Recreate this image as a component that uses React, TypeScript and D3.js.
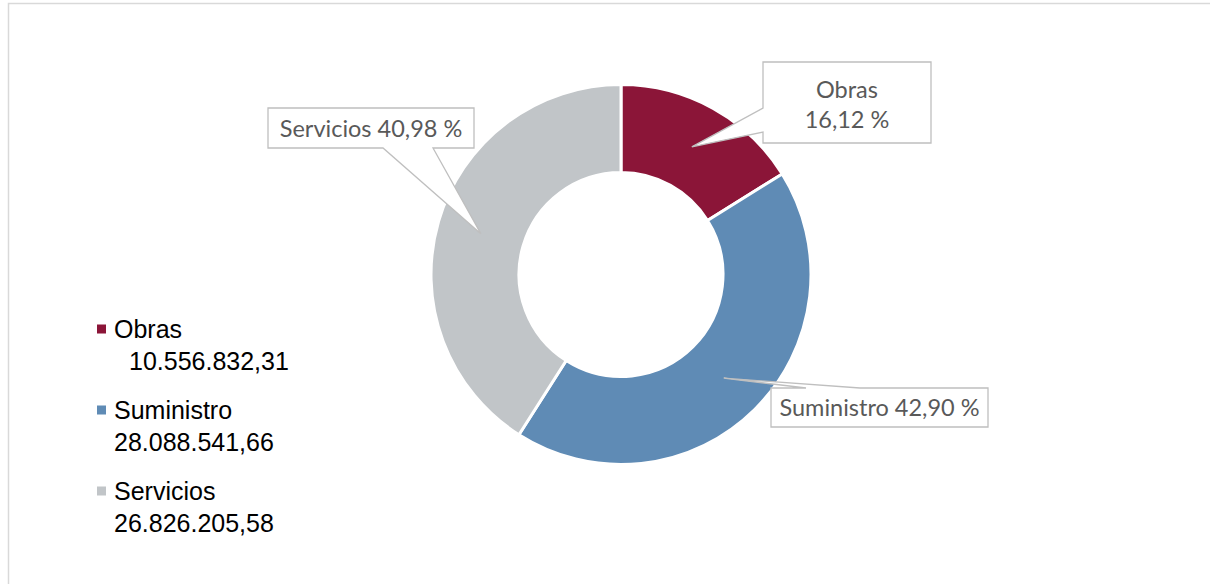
import React from "react";
import * as d3 from "d3";

const categories = ["Obras", "Suministro", "Servicios"];
const amounts = [10556832.31, 28088541.66, 26826205.58];
const amountLabels = ["10.556.832,31", "28.088.541,66", "26.826.205,58"];
const pctLabels = ["16,12 %", "42,90 %", "40,98 %"];
const colors = ["#8B1538", "#5F8BB5", "#C1C5C8"];

const W = 1210;
const H = 584;
const cx = 621;
const cy = 274.5;
const outerR = 190;
const innerR = 102;

type Box = { x: number; y: number; w: number; h: number; edge: "top" | "bottom" | "left"; base: [number, number]; lines: string[]; baselines: number[] };

// callout boxes (layout only)
const boxes: Box[] = [
  { x: 763, y: 62, w: 168, h: 81, edge: "left", base: [108, 132], lines: [categories[0], pctLabels[0]], baselines: [98, 128] },
  { x: 771, y: 388, w: 217, h: 39, edge: "top", base: [806, 860], lines: [`${categories[1]} ${pctLabels[1]}`], baselines: [416] },
  { x: 268, y: 108, w: 206, h: 40, edge: "bottom", base: [383, 433], lines: [`${categories[2]} ${pctLabels[2]}`], baselines: [137] },
];

function calloutPath(b: Box, tip: [number, number]) {
  const { x, y, w, h, edge, base } = b;
  const p = d3.path();
  p.moveTo(x, y);
  if (edge === "top") {
    p.lineTo(base[0], y);
    p.lineTo(tip[0], tip[1]);
    p.lineTo(base[1], y);
  }
  p.lineTo(x + w, y);
  p.lineTo(x + w, y + h);
  if (edge === "bottom") {
    p.lineTo(base[1], y + h);
    p.lineTo(tip[0], tip[1]);
    p.lineTo(base[0], y + h);
  }
  p.lineTo(x, y + h);
  if (edge === "left") {
    p.lineTo(x, base[1]);
    p.lineTo(tip[0], tip[1]);
    p.lineTo(x, base[0]);
  }
  p.closePath();
  return p.toString();
}

export default function App() {
  const pie = d3.pie<number>().sort(null).value((d) => d);
  const arcs = pie(amounts);
  const arc = d3.arc<d3.PieArcDatum<number>>().innerRadius(innerR).outerRadius(outerR);

  const legendRows = [
    { nameY: 338, valueY: 370, valueX: 129 },
    { nameY: 419, valueY: 451, valueX: 114 },
    { nameY: 500, valueY: 532, valueX: 114 },
  ];

  return (
    <div style={{ position: "absolute", left: 0, top: 0 }}>
      <svg width={W} height={H} style={{ display: "block", background: "#fff" }}>
        <rect x={8.5} y={3.5} width={W + 10} height={H + 10} fill="#fff" stroke="#d9d9d9" strokeWidth={1.5} />

        <g transform={`translate(${cx},${cy})`}>
          {arcs.map((a, i) => (
            <path key={categories[i]} d={arc(a) || ""} fill={colors[i]} stroke="#fff" strokeWidth={3} />
          ))}
        </g>

        {boxes.map((b, i) => {
          const c = arc.centroid(arcs[i]);
          const tip: [number, number] = [cx + c[0], cy + c[1]];
          return (
            <g key={"callout" + i}>
              <path d={calloutPath(b, tip)} fill="#fff" stroke="#bfbfbf" strokeWidth={1.3} />
              {b.lines.map((t, j) => (
                <text
                  key={j}
                  x={b.x + b.w / 2}
                  y={b.baselines[j]}
                  textAnchor="middle"
                  fill="#595959"
                  style={{ fontFamily: "Lato, 'Open Sans', sans-serif", fontSize: "23.5px" }}
                >
                  {t}
                </text>
              ))}
            </g>
          );
        })}

        {categories.map((name, i) => {
          const r = legendRows[i];
          return (
            <g key={"legend" + name} style={{ fontFamily: "'Liberation Sans', Arial, sans-serif", fontSize: "25px" }} fill="#000">
              <rect x={97} y={r.nameY - 13.5} width={9} height={9} fill={colors[i]} />
              <text x={114} y={r.nameY}>{name}</text>
              <text x={r.valueX} y={r.valueY}>{amountLabels[i]}</text>
            </g>
          );
        })}
      </svg>
    </div>
  );
}
